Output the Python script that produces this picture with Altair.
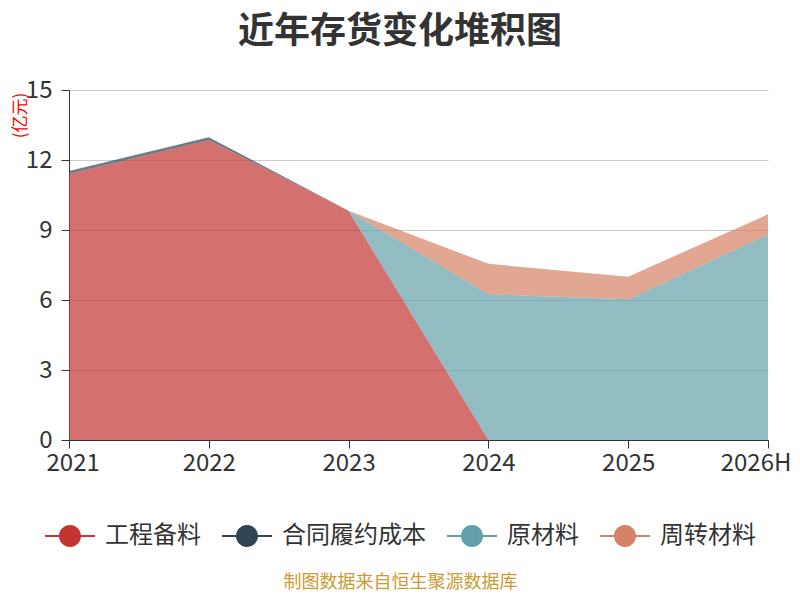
import altair as alt
import pandas as pd

years = ["2021", "2022", "2023", "2024", "2025", "2026H"]
series_names = ["工程备料", "合同履约成本", "原材料", "周转材料"]
colors = ["#c23531", "#2f4554", "#61a0a8", "#d48265"]

v_gcbl = [11.4, 12.85, 9.82, 0, 0, 0]
v_htly = [0.13, 0.13, 0, 0, 0, 0]
v_ycl = [0, 0, 0, 6.25, 6.03, 8.8]
v_zzcl = [0, 0, 0, 1.3, 0.97, 0.87]

rows = []
for i, (name, vals) in enumerate(zip(series_names, [v_gcbl, v_htly, v_ycl, v_zzcl])):
    for yr, v in zip(years, vals):
        rows.append({"year": yr, "series": name, "value": v, "ord": i})
df = pd.DataFrame(rows)

sym = "M-2.27,-0.09L2.27,-0.09L2.27,0.09L-2.27,0.09Z M1,0A1,1,0,1,1,-1,0A1,1,0,1,1,1,0Z"

font = "Noto Sans CJK SC"

chart = alt.Chart(df).mark_area(fillOpacity=0.7, strokeWidth=0, interpolate="linear").encode(
    x=alt.X(
        "year:O",
        sort=years,
        scale=alt.Scale(type="point", padding=0),
        axis=alt.Axis(
            labelAngle=0,
            labelFontSize=24,
            labelColor="#333333",
            labelFont=font,
            labelPadding=3,
            labelFlush=True,
            labelFlushOffset=23,
            tickSize=8,
            tickColor="#333333",
            domainColor="#333333",
            domainWidth=1,
            grid=False,
            title="制图数据来自恒生聚源数据库",
            titleFont=font,
            titleFontSize=18,
            titleFontWeight="normal",
            titleColor="#cc9a33",
            titleX=331,
            titleY=142,
            titleBaseline="middle",
            titleAlign="center",
            titleAnchor="start",
        ),
    ),
    y=alt.Y(
        "value:Q",
        stack="zero",
        scale=alt.Scale(domain=[0, 15], nice=False),
        axis=alt.Axis(
            values=[0, 3, 6, 9, 12, 15],
            labelFontSize=24,
            labelColor="#333333",
            labelFont=font,
            labelPadding=9,
            tickSize=8,
            tickColor="#333333",
            domainColor="#333333",
            gridColor="#cccccc",
            gridWidth=1,
            title="(亿元)",
            titleFont=font,
            titleFontSize=17,
            titleFontWeight="normal",
            titleColor="#ff0000",
            titleAngle=270,
            titleX=-49,
            titleY=25,
            titleAlign="center",
            titleBaseline="middle",
        ),
    ),
    fill=alt.Fill(
        "series:N",
        sort=series_names,
        scale=alt.Scale(domain=series_names, range=colors),
        legend=alt.Legend(
            title=None,
            orient="none",
            direction="horizontal",
            legendX=-11,
            legendY=434,
            symbolType=sym,
            symbolSize=484,
            symbolStrokeWidth=0,
            symbolOpacity=1,
            labelFontSize=24,
            labelFont=font,
            labelColor="#333333",
            labelOffset=23,
            columnPadding=21,
        ),
    ),
    order=alt.Order("ord:Q"),
).properties(
    width=699,
    height=350,
    autosize=alt.AutoSizeParams(type="none"),
    padding={"left": 61, "top": 82, "right": 24, "bottom": 152},
    title=alt.Title(
        "近年存货变化堆积图",
        font=font,
        fontSize=36,
        fontWeight="bold",
        color="#333333",
        anchor="middle",
        dx=-18.5,
        offset=27,
    ),
).configure_view(stroke=None)

chart.save("out.html", embed_options={"renderer": "svg", "actions": False})
